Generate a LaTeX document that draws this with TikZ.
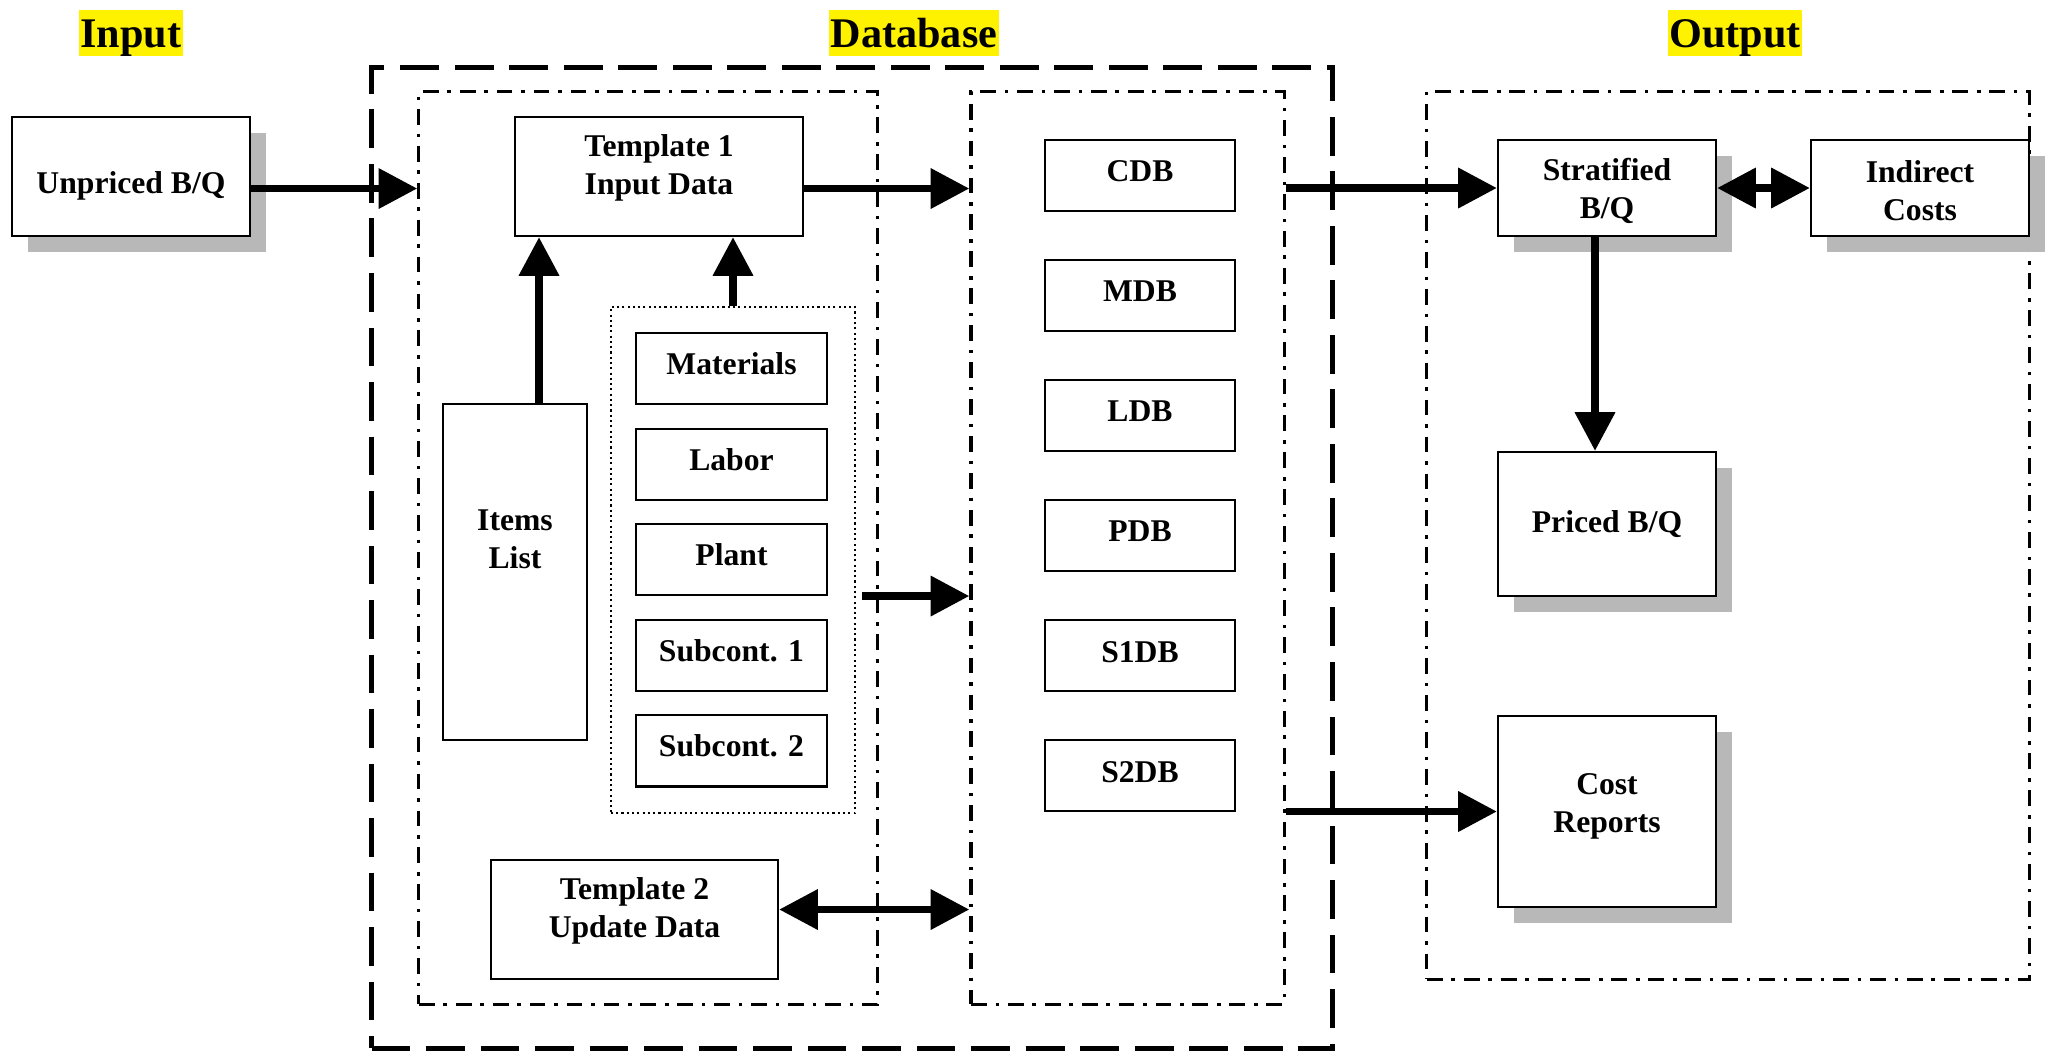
\documentclass[tikz,border=0pt]{standalone}
\usepackage{fontspec}
\setmainfont{Liberation Serif}
\usetikzlibrary{arrows.meta,positioning,shadows}

\begin{document}
\begin{tikzpicture}[x=0.01cm, y=-0.01cm,
  font=\fontsize{9}{10.8}\selectfont\bfseries,
  box/.style={draw, line width=0.6pt, fill=white, inner sep=0pt, align=center},
  shbox/.style={box, drop shadow={shadow xshift=0.16cm, shadow yshift=-0.16cm, fill=black!28, opacity=1}},
  head/.style={fill=yellow, font=\fontsize{12}{14}\selectfont\bfseries, inner xsep=0.5pt, inner ysep=0pt, text height=10.7pt, text depth=2.6pt},
  flow/.style={line width=2.2pt, -{Triangle[length=11pt,width=11pt]}},
  both/.style={line width=2.2pt, {Triangle[length=11pt,width=11pt]}-{Triangle[length=11pt,width=11pt]}},
  bigdash/.style={draw, line width=1.4pt, dash pattern=on 11pt off 4.5pt, inner sep=0pt},
  dashdot/.style={draw, line width=0.9pt, dash pattern=on 4.5pt off 2.5pt on 1pt off 2.5pt, inner sep=0pt},
  dotbox/.style={draw, line width=0.6pt, dash pattern=on 0.6pt off 0.9pt, inner sep=0pt}]
\useasboundingbox (0,0) rectangle (2055,1053);
\node[head] (hin) at (131,33) {Input};
\node[head] (hdb) at (914,33) {Database};
\node[head] (hout) at (1735,33) {Output};
\node[bigdash, minimum width=9.6cm, minimum height=9.8cm] (dbase) at (852,558) {};
\node[dashdot, minimum width=4.58cm, minimum height=9.12cm] (inA) at (648,548) {};
\node[dashdot, minimum width=3.13cm, minimum height=9.12cm] (inB) at (1127.5,548) {};
\node[dashdot, minimum width=6.02cm, minimum height=8.87cm] (outp) at (1728,535.5) {};
\node[dotbox, minimum width=2.44cm, minimum height=5.06cm] (group) at (733,560) {};
\node[shbox, minimum width=2.38cm, minimum height=1.19cm, text height=0.4cm] (unpriced) at (131,176.5) {Unpriced B/Q};
\node[box, minimum width=2.88cm, minimum height=1.19cm, text depth=0.24cm] (tmpA) at (659,176.5) {Template 1\\Input Data};
\node[box, minimum width=1.44cm, minimum height=3.36cm, text depth=0.66cm] (items) at (515,572) {Items\\List};
\foreach \t [count=\i from 0] in {Materials,Labor,Plant,Subcont. 1,Subcont. 2}
  \node[box, minimum width=1.91cm, minimum height=0.71cm, text depth=0.1cm] (res\i) at (731.5,368.5+95.6*\i) {\t};
\node[box, minimum width=2.87cm, minimum height=1.19cm, text depth=0.24cm] (tmpB) at (634.5,919.5) {Template 2\\Update Data};
\foreach \t [count=\i from 0] in {CDB,MDB,LDB,PDB,S1DB,S2DB}
  \node[box, minimum width=1.9cm, minimum height=0.71cm, text depth=0.08cm] (db\i) at (1140,175.5+120*\i) {\t};
\node[shbox, minimum width=2.18cm, minimum height=0.96cm, text height=0.66cm] (strat) at (1607,188) {Stratified\\B/Q};
\node[shbox, minimum width=2.18cm, minimum height=0.96cm, text height=0.66cm] (indir) at (1920,188) {Indirect\\Costs};
\node[shbox, minimum width=2.18cm, minimum height=1.44cm] (priced) at (1607,524) {Priced B/Q};
\node[shbox, minimum width=2.18cm, minimum height=1.91cm, text depth=0.17cm] (cost) at (1607,811.5) {Cost\\Reports};
\coordinate (u1) at ([yshift=-0.12cm]unpriced.east);
\coordinate (t1) at ([yshift=-0.12cm]tmpA.east);
\coordinate (i1) at ([xshift=0.24cm]items.north);
\coordinate (g1) at ([xshift=0.06cm,yshift=-0.36cm]group.east);
\coordinate (t2) at ([yshift=0.1cm]tmpB.east);
\coordinate (s1) at ([xshift=-0.12cm]strat.south);
\draw[flow] (u1) -- (u1 -| inA.west);
\draw[flow] (t1) -- (t1 -| inB.west);
\draw[flow] (i1) -- (i1 |- tmpA.south);
\draw[flow] (group.north) -- (group.north |- tmpA.south);
\draw[flow] (g1) -- (g1 -| inB.west);
\draw[both] (t2) -- (t2 -| inB.west);
\draw[flow] (strat.west -| inB.east) -- (strat.west);
\draw[flow] (cost.west -| inB.east) -- (cost.west);
\draw[both] (strat.east) -- (indir.west);
\draw[flow] (s1) -- (s1 |- priced.north);
\end{tikzpicture}
\end{document}
